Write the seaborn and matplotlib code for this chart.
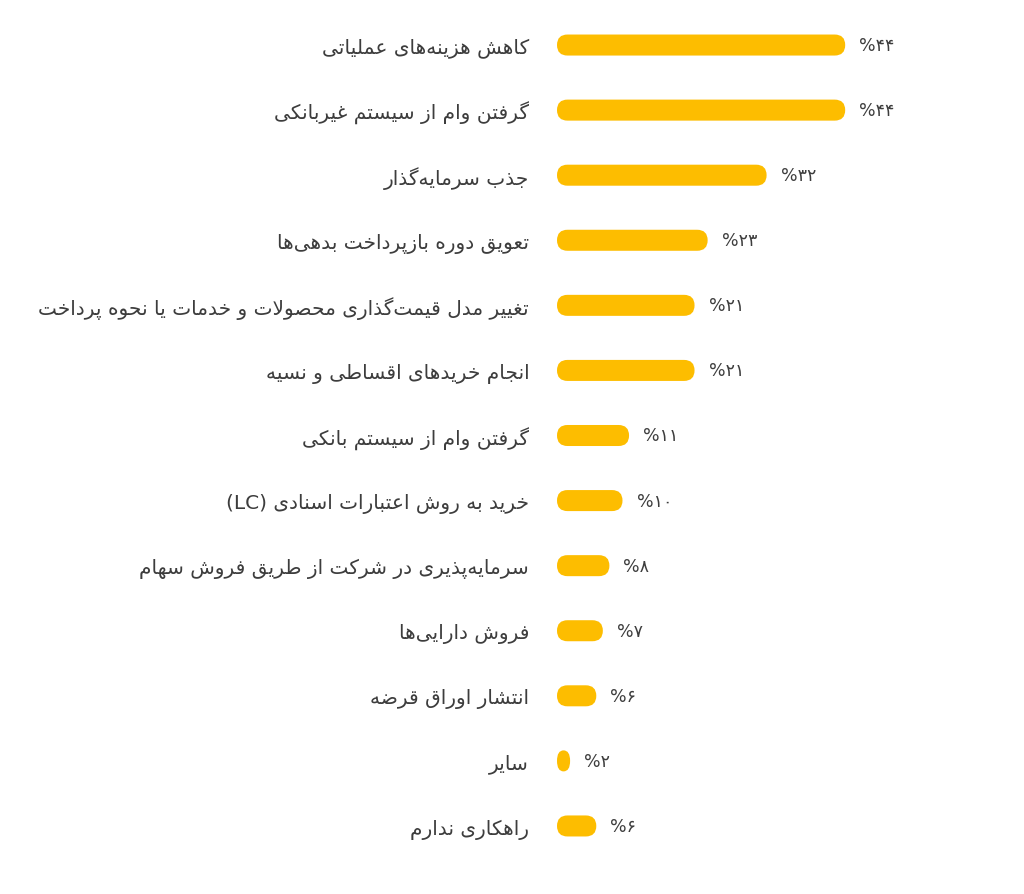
import matplotlib
matplotlib.use("Agg")
import matplotlib.pyplot as plt
import seaborn as sns
import pandas as pd
from matplotlib.patches import FancyBboxPatch

# data (logical Persian text, top to bottom)
labels = [
    "کاهش هزینه‌های عملیاتی",
    "گرفتن وام از سیستم غیربانکی",
    "جذب سرمایه‌گذار",
    "تعویق دوره بازپرداخت بدهی‌ها",
    "تغییر مدل قیمت‌گذاری محصولات و خدمات یا نحوه پرداخت",
    "انجام خریدهای اقساطی و نسیه",
    "گرفتن وام از سیستم بانکی",
    "خرید به روش اعتبارات اسنادی (LC)",
    "سرمایه‌پذیری در شرکت از طریق فروش سهام",
    "فروش دارایی‌ها",
    "انتشار اوراق قرضه",
    "سایر",
    "راهکاری ندارم",
]
values = [44, 44, 32, 23, 21, 21, 11, 10, 8, 7, 6, 2, 6]

BAR_COLOR = "#FDBD00"
TEXT_COLOR = "#3d3d3d"

# --- tiny arabic/persian shaper, matplotlib has no RTL layout ---
dual = {'ب': 0xFE8F, 'پ': 0xFB56, 'ت': 0xFE95, 'ث': 0xFE99, 'ج': 0xFE9D, 'چ': 0xFB7A,
        'ح': 0xFEA1, 'خ': 0xFEA5, 'س': 0xFEB1, 'ش': 0xFEB5, 'ص': 0xFEB9, 'ض': 0xFEBD,
        'ط': 0xFEC1, 'ظ': 0xFEC5, 'ع': 0xFEC9, 'غ': 0xFECD, 'ف': 0xFED1, 'ق': 0xFED5,
        'ک': 0xFB8E, 'گ': 0xFB92, 'ل': 0xFEDD, 'م': 0xFEE1, 'ن': 0xFEE5, 'ه': 0xFEE9,
        'ی': 0xFBFC}
right = {'ا': 0xFE8D, 'آ': 0xFE81, 'د': 0xFEA9, 'ذ': 0xFEAB, 'ر': 0xFEAD, 'ز': 0xFEAF,
         'ژ': 0xFB8A, 'و': 0xFEED}
mirror = {'(': ')', ')': '('}


def shape(s):
    s = s.replace('\u200c', '\u0000')
    out = []
    i = 0
    n = len(s)
    while i < n:
        c = s[i]
        prev = s[i - 1] if i > 0 else ''
        nxt = s[i + 1] if i + 1 < n else ''
        jp = prev in dual
        if c == 'ل' and nxt == 'ا':
            out.append(chr(0xFEFC if jp else 0xFEFB))
            i += 2
            continue
        if c in dual or c in right:
            base = dual.get(c, right.get(c))
            jn = c in dual and (nxt in dual or nxt in right)
            k = 3 if (jp and jn) else 1 if jp else 2 if jn else 0
            out.append(chr(base + k))
        elif c != '\u0000':
            out.append(c)
        i += 1
    vis = out[::-1]
    # put latin runs back in order, mirror brackets
    res = []
    run = []
    for ch in vis:
        if ch.isascii() and ch.isalnum():
            run.append(ch)
        else:
            res.extend(run[::-1])
            run = []
            res.append(mirror.get(ch, ch))
    res.extend(run[::-1])
    return ''.join(res)


def fa_pct(v):
    return "%" + str(v).translate(str.maketrans("0123456789", "۰۱۲۳۴۵۶۷۸۹"))


df = pd.DataFrame({"label": [shape(t) for t in labels], "value": values})

sns.set_theme(style="white")
plt.rcParams['font.family'] = ['DejaVu Sans']

W, H = 1024, 895
fig = plt.figure(figsize=(W / 100, H / 100), dpi=100)
ax_left, ax_right = 557, 1024
ax_top, ax_bot = 13.5, 859.5
ax = fig.add_axes([ax_left / W, (H - ax_bot) / H, (ax_right - ax_left) / W, (ax_bot - ax_top) / H])

sns.barplot(data=df, x="value", y="label", orient="h", color=BAR_COLOR,
            width=0.323, ax=ax, saturation=1)

xmax = (ax_right - ax_left) / 6.55
ax.set_xlim(0, xmax)
ax.set_ylim(len(values) - 0.5, -0.5)

px_x = (ax_right - ax_left) / xmax
px_y = (ax_bot - ax_top) / len(values)

# swap the plain rectangles for pill shapes
for p in list(ax.patches):
    x0, y0, w, h = p.get_x(), p.get_y(), p.get_width(), p.get_height()
    ry = h * px_y / 2
    rx = min(ry, w * px_x / 2)
    dr = rx / px_x
    box = FancyBboxPatch((x0, y0), w, h,
                         boxstyle=f"round,pad=0,rounding_size={dr}",
                         mutation_aspect=ry * px_x / (rx * px_y),
                         facecolor=p.get_facecolor(), edgecolor="none")
    p.remove()
    ax.add_patch(box)

for i, v in enumerate(values):
    ax.text(v + 14 / px_x, i, fa_pct(v), va="center", ha="left",
            fontsize=12.5, color=TEXT_COLOR)

ax.set_xlabel("")
ax.set_ylabel("")
ax.set_xticks([])
ax.tick_params(axis="y", length=0, pad=20, labelsize=14.5, labelcolor=TEXT_COLOR)
for t in ax.get_yticklabels():
    t.set_va("center_baseline")
sns.despine(ax=ax, left=True, bottom=True)

fig.savefig("out.png", dpi=100, facecolor="white")
